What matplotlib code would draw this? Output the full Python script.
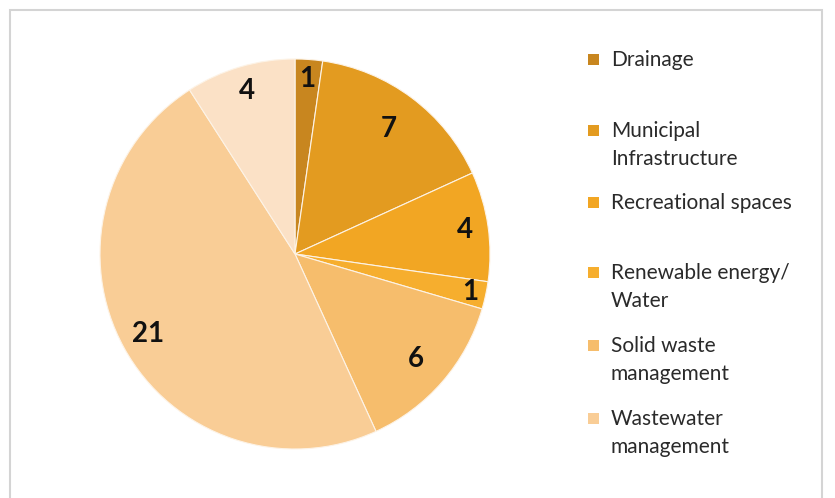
import numpy as np
import matplotlib.pyplot as plt
from matplotlib.patches import Rectangle

plt.rcParams['font.family'] = ['Lato', 'DejaVu Sans']

categories = ["Drainage", "Municipal\nInfrastructure", "Recreational spaces",
              "Renewable energy/\nWater", "Solid waste\nmanagement",
              "Wastewater\nmanagement", "Other"]
values = [1, 7, 4, 1, 6, 21, 4]
colors = ["#c8861f", "#e39b20", "#f2a623", "#f6ae2e", "#f6bd6c",
          "#f9cd96", "#fbe1c6"]
legend_shown = 6  # last category is cut off in the original legend

W, H = 835, 498
fig = plt.figure(figsize=(W / 100, H / 100), dpi=100)

# light gray frame round the chart area
fig.add_artist(Rectangle((10 / W, -0.01), 812 / W, (H - 10) / H + 0.01,
                         transform=fig.transFigure, fill=False,
                         edgecolor="#d4d4d4", linewidth=1.5))

cx, cy, r = 295, H - 254, 195
ax = fig.add_axes([(cx - r) / W, (cy - r) / H, 2 * r / W, 2 * r / H])
wedges, _ = ax.pie(values, colors=colors, startangle=90, counterclock=False,
                   radius=1, wedgeprops=dict(edgecolor="#fdf3e6", linewidth=0.8))
ax.set_xlim(-1, 1)
ax.set_ylim(-1, 1)
ax.set_aspect("equal")

# value labels
dists = [0.9, 0.8, 0.88, 0.92, 0.82, 0.86, 0.87]
total = sum(values)
start = 90.0
for v, d in zip(values, dists):
    mid = np.deg2rad(start - 360 * v / total / 2)
    ax.text(d * np.cos(mid), d * np.sin(mid), str(v), ha="center", va="center",
            fontsize=20, fontweight="bold", color="#111111")
    start -= 360 * v / total

# legend drawn by hand to keep the original spacing
ys = [60, 131, 203, 273, 346, 419]
for i in range(legend_shown):
    y = ys[i]
    fig.add_artist(Rectangle((588 / W, (H - y - 5) / H), 11 / W, 11 / H,
                             transform=fig.transFigure, facecolor=colors[i],
                             edgecolor="none"))
    fig.text(611 / W, (H - y) / H, categories[i].split("\n")[0], ha="left",
             va="center", fontsize=15, color="#2a2a2a")
    if "\n" in categories[i]:
        fig.text(611 / W, (H - y - 28) / H, categories[i].split("\n")[1],
                 ha="left", va="center", fontsize=15, color="#2a2a2a")

fig.savefig("out.png", dpi=100)
